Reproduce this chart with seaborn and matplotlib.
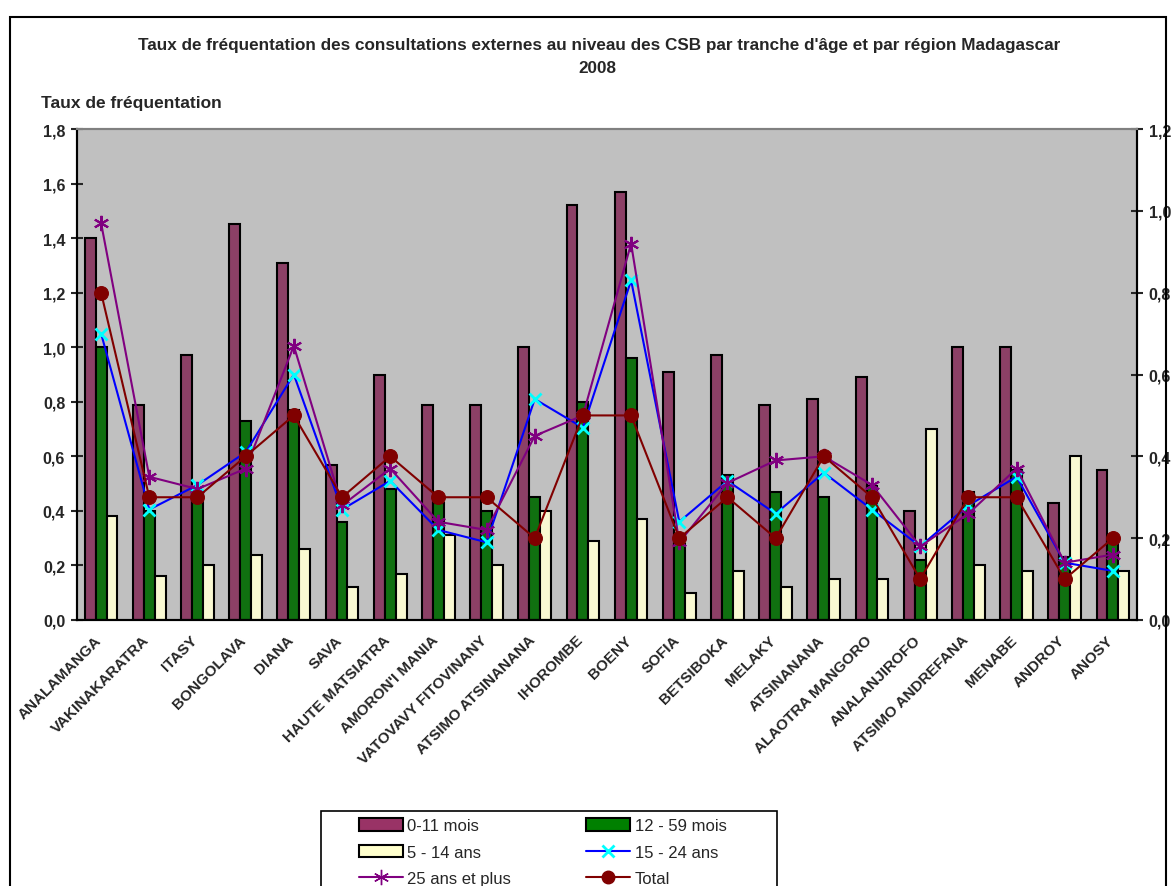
import pandas as pd
import seaborn as sns
import numpy as np
import matplotlib.pyplot as plt
import matplotlib.transforms as mtransforms
from matplotlib.patches import Rectangle, Patch
from matplotlib.lines import Line2D
from matplotlib.ticker import FuncFormatter

regions = ["ANALAMANGA", "VAKINAKARATRA", "ITASY", "BONGOLAVA", "DIANA", "SAVA",
           "HAUTE MATSIATRA", "AMORON'I MANIA", "VATOVAVY FITOVINANY",
           "ATSIMO ATSINANANA", "IHOROMBE", "BOENY", "SOFIA", "BETSIBOKA", "MELAKY",
           "ATSINANANA", "ALAOTRA MANGORO", "ANALANJIROFO", "ATSIMO ANDREFANA",
           "MENABE", "ANDROY", "ANOSY"]

# barres (axe de gauche)
mois_0_11 = [1.40, 0.79, 0.97, 1.45, 1.31, 0.57, 0.90, 0.79, 0.79, 1.00, 1.52, 1.57,
             0.91, 0.97, 0.79, 0.81, 0.89, 0.40, 1.00, 1.00, 0.43, 0.55]
mois_12_59 = [1.00, 0.40, 0.47, 0.73, 0.77, 0.36, 0.48, 0.43, 0.40, 0.45, 0.80, 0.96,
              0.28, 0.53, 0.47, 0.45, 0.49, 0.22, 0.47, 0.55, 0.23, 0.30]
ans_5_14 = [0.38, 0.16, 0.20, 0.24, 0.26, 0.12, 0.17, 0.31, 0.20, 0.40, 0.29, 0.37,
            0.10, 0.18, 0.12, 0.15, 0.15, 0.70, 0.20, 0.18, 0.60, 0.18]

# courbes (axe de droite)
ans_15_24 = [0.70, 0.27, 0.33, 0.41, 0.60, 0.27, 0.34, 0.22, 0.19, 0.54, 0.47, 0.83,
             0.24, 0.34, 0.26, 0.36, 0.27, 0.18, 0.28, 0.35, 0.14, 0.12]
ans_25_plus = [0.97, 0.35, 0.32, 0.37, 0.67, 0.28, 0.37, 0.24, 0.22, 0.45, 0.50, 0.92,
               0.19, 0.335, 0.39, 0.40, 0.33, 0.18, 0.26, 0.37, 0.14, 0.16]
total = [0.80, 0.30, 0.30, 0.40, 0.50, 0.30, 0.40, 0.30, 0.30, 0.20, 0.50, 0.50,
         0.20, 0.30, 0.20, 0.40, 0.30, 0.10, 0.30, 0.30, 0.10, 0.20]

bar_labels = ["0-11 mois", "12 - 59 mois", "5 - 14 ans"]
bar_colors = {"0-11 mois": "#993366", "12 - 59 mois": "#008000", "5 - 14 ans": "#FFFFCC"}

sns.set_style("white")
plt.rcParams['font.family'] = ['Liberation Sans', 'DejaVu Sans']

df = pd.DataFrame({"region": regions, "0-11 mois": mois_0_11,
                   "12 - 59 mois": mois_12_59, "5 - 14 ans": ans_5_14})
df_long = df.melt(id_vars="region", var_name="tranche", value_name="taux")

fig = plt.figure(figsize=(11.74, 8.87), dpi=100)
ax = fig.add_axes([0.0656, 0.2999, 0.9029, 0.5535])

sns.barplot(data=df_long, x="region", y="taux", hue="tranche", hue_order=bar_labels,
            palette=bar_colors, width=0.68, gap=0, edgecolor="black", linewidth=1.5,
            errorbar=None, legend=False, ax=ax)
ax.set_facecolor("#C0C0C0")
ax.set_ylim(0, 1.8)
ax.set_yticks(np.arange(0, 1.81, 0.2))
virg = FuncFormatter(lambda v, p: f"{v:.1f}".replace(".", ","))
ax.yaxis.set_major_formatter(virg)

ax2 = ax.twinx()
x = np.arange(len(regions))
sns.lineplot(x=x, y=ans_15_24, color="#0000FF", marker="x", markersize=9,
             markeredgecolor="#00FFFF", markeredgewidth=2, linewidth=1.5, ax=ax2)
sns.lineplot(x=x, y=ans_25_plus, color="#800080", marker=(6, 2, 0), markersize=11,
             markeredgecolor="#800080", markeredgewidth=1.5, linewidth=1.5, ax=ax2)
sns.lineplot(x=x, y=total, color="#800000", marker="o", markersize=10,
             markeredgecolor="#800000", linewidth=1.5, ax=ax2)
ax2.set_ylim(0, 1.2)
ax2.set_yticks(np.arange(0, 1.21, 0.2))
ax2.yaxis.set_major_formatter(virg)
ax2.set_xlim(-0.5, len(regions) - 0.5)

for a in (ax, ax2):
    for s in ("left", "right", "bottom"):
        a.spines[s].set_color("black")
        a.spines[s].set_linewidth(1.5)
    a.spines["top"].set_color("#808080")
    a.spines["top"].set_linewidth(1.5)
    a.tick_params(axis="y", direction="inout", length=9, width=1.5, labelsize=11.5, pad=4)
    for t in a.get_yticklabels():
        t.set_fontweight("bold")

ax.set_xlabel("")
ax.set_ylabel("")
ax2.set_ylabel("")
ax.set_xticks(x)
ax.set_xticklabels(regions, rotation=45, ha="right", rotation_mode="anchor",
                   fontsize=11, fontweight="bold")
ax.tick_params(axis="x", which="major", length=0, pad=9)
decal = mtransforms.ScaledTranslation(-7 / 100, 0, fig.dpi_scale_trans)
for t in ax.get_xticklabels():
    t.set_transform(t.get_transform() + decal)
ax.set_xticks(np.arange(-0.5, len(regions), 1), minor=True)
ax.tick_params(axis="x", which="minor", direction="out", length=5, width=1.5)
ax.tick_params(axis="y", left=True)
ax2.tick_params(axis="y", right=True)

fig.text(0.5106, 0.949, "Taux de fréquentation des consultations externes au niveau des CSB par tranche d'âge et par région Madagascar",
         ha="center", va="center", fontsize=12.3, fontweight="bold")
fig.text(0.509, 0.923, "2008", ha="center", va="center", fontsize=12.3, fontweight="bold")
fig.text(0.035, 0.883, "Taux de fréquentation", ha="left", va="center",
         fontsize=12.5, fontweight="bold")

# cadre extérieur
fig.patches.append(Rectangle((10 / 1174, -0.05), 1156 / 1174, 1 - 18 / 887 + 0.05,
                             transform=fig.transFigure, fill=False,
                             edgecolor="black", linewidth=1.5))
# cadre de la légende
fig.patches.append(Rectangle((321 / 1174, -0.02), (777 - 321) / 1174, 1 - 812 / 887 + 0.02,
                             transform=fig.transFigure, fill=False,
                             edgecolor="black", linewidth=1.2))

handles = [
    Patch(facecolor=bar_colors["0-11 mois"], edgecolor="black", linewidth=1.5),
    Patch(facecolor=bar_colors["5 - 14 ans"], edgecolor="black", linewidth=1.5),
    Line2D([], [], color="#800080", marker=(6, 2, 0), markersize=11, linewidth=1.5),
    Patch(facecolor=bar_colors["12 - 59 mois"], edgecolor="black", linewidth=1.5),
    Line2D([], [], color="#0000FF", marker="x", markersize=9,
           markeredgecolor="#00FFFF", markeredgewidth=2, linewidth=1.5),
    Line2D([], [], color="#800000", marker="o", markersize=9, linewidth=1.5),
]
labels = ["0-11 mois", "5 - 14 ans", "25 ans et plus", "12 - 59 mois", "15 - 24 ans", "Total"]
leg = fig.legend(handles, labels, ncol=2, loc="upper left",
                 bbox_to_anchor=(359 / 1174, 1 - 819 / 887),
                 fontsize=12, frameon=False, handlelength=2.65, handleheight=0.8,
                 handletextpad=0.25, borderaxespad=0, borderpad=0,
                 labelspacing=0.68, columnspacing=4.5)

fig.savefig("out.png", dpi=100)
